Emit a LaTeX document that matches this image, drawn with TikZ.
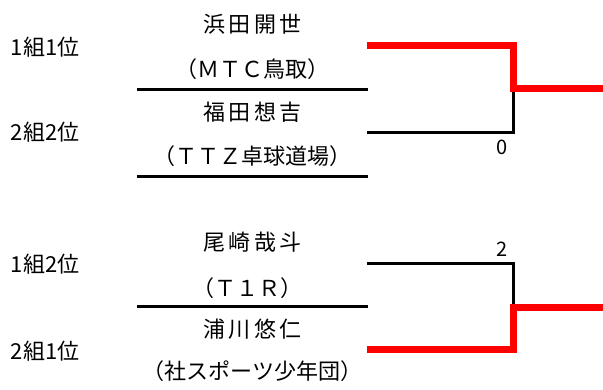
\documentclass[tikz,border=0pt]{standalone}
\usepackage{fontspec}
\setmainfont{Noto Sans CJK JP}
\usepackage{tikz}
\tikzset{ jp_text/.style = {inner sep=0pt, text height=19.4pt, text depth=2.6pt, font=\fontsize{22}{22}\selectfont} }
\tikzset{ name_text/.style = {jp_text, font=\fontsize{22}{22}\selectfont\addfontfeature{LetterSpace=15}} }
\tikzset{ score/.style = {inner sep=0pt, font=\fontsize{20}{20}\selectfont} }
\tikzset{ split_line/.style = {line width=2.7pt} }
\tikzset{ lose_line/.style = {line width=3pt} }
\tikzset{ win_line/.style = {line width=7pt, red} }

\begin{document}
\begin{tikzpicture}[x=1pt,y=-1pt]
    \useasboundingbox (0,0) rectangle (603,389);
    \node[jp_text] (g1) at (45,46.7) {1組1位};
    \node[name_text] (n1) at (252.5,24) {浜田開世};
    \node[jp_text] (c1) at (252.5,69) {（ＭＴＣ鳥取）};
    \node[jp_text] (g2) at (45,131.7) {2組2位};
    \node[name_text] (n2) at (252.5,112.5) {福田想吉};
    \node[jp_text] (c2) at (252.5,156.5) {（ＴＴＺ卓球道場）};
    \node[jp_text] (g3) at (45,264) {1組2位};
    \node[name_text] (n3) at (252.5,241.7) {尾崎哉斗};
    \node[jp_text] (c3) at (247.5,288.3) {（Ｔ１Ｒ）};
    \node[jp_text] (g4) at (45,351) {2組1位};
    \node[name_text] (n4) at (252.5,329) {浦川悠仁};
    \node[jp_text] (c4) at (252.5,371) {（社スポーツ少年団）};
    \draw[split_line] (137,89.3) -- (368,89.3);
    \draw[split_line] (137,176.3) -- (368,176.3);
    \draw[split_line] (137,306.7) -- (368,306.7);
    \coordinate (p1) at (367,45.8);
    \coordinate (p2) at (367,132.2);
    \coordinate (m1) at (513,88.7);
    \coordinate (w1) at (603,88.7);
    \coordinate (p3) at (367,263.5);
    \coordinate (p4) at (367,349.5);
    \coordinate (m2) at (513,307);
    \coordinate (w2) at (603,307);
    \draw[lose_line] (p2) -| (m1);
    \draw[win_line] (p1) -| (m1) -- (w1);
    \draw[lose_line] (p3) -| (m2);
    \draw[win_line] (p4) -| (m2) -- (w2);
    \node[score] (s1) at (502.5,147.5) {0};
    \node[score] (s2) at (502.3,249) {2};
    \end{tikzpicture}
\end{document}
